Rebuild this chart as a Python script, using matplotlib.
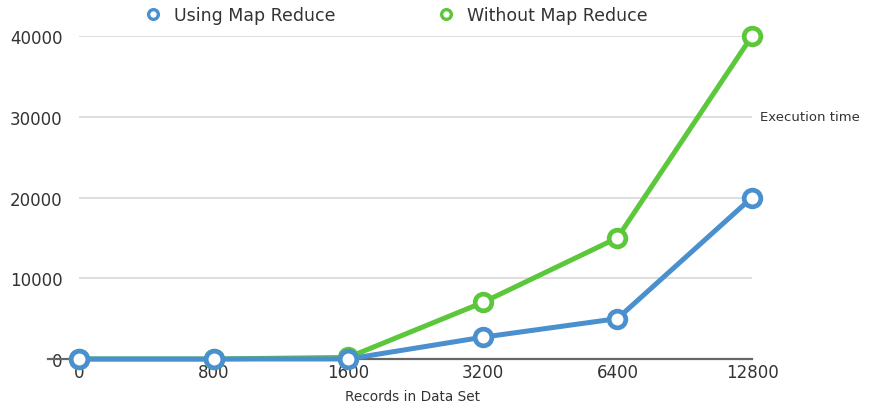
import matplotlib
matplotlib.use("Agg")
import matplotlib.pyplot as plt
from matplotlib.lines import Line2D

# Data
records = ["0", "800", "1600", "3200", "6400", "12800"]
using_map_reduce = [0, 0, 0, 2700, 5000, 20000]
without_map_reduce = [0, 0, 200, 7000, 15000, 40000]
y_ticks = [0, 10000, 20000, 30000, 40000]

blue = "#4a8fce"
green = "#5cc73a"
text_color = "#333333"

plt.rcParams["font.family"] = ["DejaVu Sans"]

fig = plt.figure(figsize=(8.72, 4.06), dpi=100)
W, H = 872, 406
ax = fig.add_axes([79 / W, 1 - 360 / H, (752 - 79) / W, (360 - 37) / H])

x = list(range(len(records)))

for xs, ys, c in [(x, without_map_reduce, green), (x, using_map_reduce, blue)]:
    ax.plot(xs, ys, color=c, lw=3.6, solid_capstyle="round", zorder=3,
            clip_on=False)
    ax.plot(xs, ys, ls="none", marker="o", ms=12, mew=3.4, mec=c,
            mfc="white", zorder=4, clip_on=False)

ax.set_xlim(0, len(records) - 1)
ax.set_ylim(0, 40000)
ax.set_xticks(x)
ax.set_xticklabels(records)
ax.set_yticks(y_ticks)
ax.set_yticklabels([str(v) for v in y_ticks])

for v in y_ticks[1:]:
    ax.axhline(v, color="#d8d8d8", lw=1.2, zorder=1)
ax.plot([-0.23, len(records) - 1], [0, 0], color="#666666", lw=1.6,
        zorder=2, clip_on=False)

for s in ax.spines.values():
    s.set_visible(False)
ax.tick_params(axis="both", length=0, labelsize=12, colors=text_color)
ax.tick_params(axis="x", pad=3)
ax.tick_params(axis="y", pad=12)

ax.text(1.012, 30000, "Execution time", transform=ax.get_yaxis_transform(),
        fontsize=9.5, color=text_color, va="center", ha="left")
fig.text(412 / W, 1 - 397 / H, "Records in Data Set", fontsize=9.8,
         color=text_color, ha="center", va="center")

handles = [
    Line2D([], [], ls="none", marker="o", ms=7, mew=2.4, mec=blue,
           mfc="white", label="Using Map Reduce"),
    Line2D([], [], ls="none", marker="o", ms=7, mew=2.4, mec=green,
           mfc="white", label="Without Map Reduce"),
]
fig.legend(handles=handles, loc="center left",
           bbox_to_anchor=(136 / W, 1 - 16 / H), ncol=2, frameon=False,
           fontsize=12.5, handlelength=1.0, handletextpad=0.7,
           columnspacing=5.85, borderpad=0, labelcolor=text_color)

fig.savefig("out.png", dpi=100)
